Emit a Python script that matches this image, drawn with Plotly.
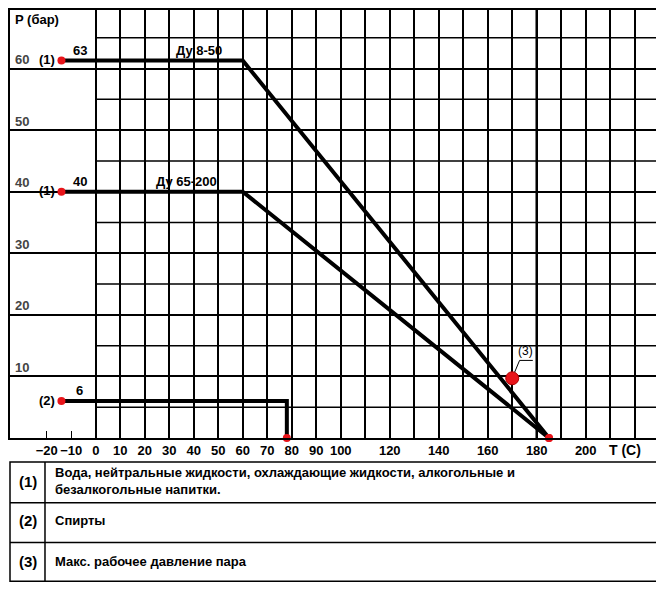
import plotly.graph_objects as go

# axis ticks
x_ticks = [-20, -10, 0, 10, 20, 30, 40, 50, 60, 70, 80, 90, 100, 120, 140, 160, 180, 200]
x_grid = list(range(0, 230, 10))
y_ticks = [10, 20, 30, 40, 50, 60]
y_minor = [5, 15, 25, 35, 45, 55, 65]

# pressure-temperature limits as drawn
curve_names = ["Ду 8-50", "Ду 65-200", ""]
curve_t = [[-14, 60, 185], [-14, 60, 185], [-14, 78, 78]]
curve_p = [[61.3, 61.3, 0], [40, 40, 0], [6, 6, 0]]
curve_group = ["(1)", "(1)", "(2)"]
curve_pn = ["63", "40", "6"]
name_t = [42, 37, None]

# max working steam pressure point
steam_t = [170]
steam_p = [9.7]

# legend table rows
row_keys = ["(1)", "(2)", "(3)"]
row_texts = [
    "Вода, нейтральные жидкости, охлаждающие жидкости, алкогольные и<br>безалкогольные напитки.",
    "Спирты",
    "Макс. рабочее давление пара",
]

FONT = "Liberation Sans, Arial, sans-serif"
X_MAX = 229.5

fig = go.Figure()

for t, p in zip(curve_t, curve_p):
    fig.add_trace(go.Scatter(x=t, y=p, mode="lines",
                             line=dict(color="black", width=4),
                             showlegend=False, hoverinfo="skip"))
    fig.add_trace(go.Scatter(x=[t[0], t[-1]], y=[p[0], p[-1]], mode="markers",
                             marker=dict(color="#e8141a", size=8),
                             showlegend=False, cliponaxis=False))

fig.add_trace(go.Scatter(x=steam_t, y=steam_p, mode="markers",
                         marker=dict(color="#e8141a", size=13,
                                     line=dict(color="#b00000", width=1)),
                         showlegend=False))

# minor horizontal grid only to the right of 0 C
shapes = []
for v in y_minor:
    shapes.append(dict(type="line", xref="x", yref="y", x0=0, x1=X_MAX, y0=v, y1=v,
                       line=dict(color="black", width=1.5), layer="below"))
# thicker 180 line
shapes.append(dict(type="line", xref="x", yref="paper", x0=180, x1=180, y0=0, y1=1,
                   line=dict(color="black", width=2.5), layer="below"))
# leader for (3)
shapes.append(dict(type="path", xref="x", yref="y",
                   path="M 171,10.7 L 173,12.6 L 178.4,12.6",
                   line=dict(color="black", width=1)))

# table below the chart
ty = [-0.0558, -0.1512, -0.2442, -0.3349]
shapes.append(dict(type="rect", xref="paper", yref="paper", x0=0, x1=1, y0=ty[3], y1=ty[0],
                   line=dict(color="black", width=1.5)))
for v in ty[1:3]:
    shapes.append(dict(type="line", xref="paper", yref="paper", x0=0, x1=1, y0=v, y1=v,
                       line=dict(color="black", width=1.5)))
shapes.append(dict(type="line", xref="paper", yref="paper", x0=0.054, x1=0.054,
                   y0=ty[3], y1=ty[0], line=dict(color="black", width=1.5)))
shapes.append(dict(type="line", xref="paper", yref="paper", x0=1.002, x1=1.002,
                   y0=ty[3], y1=1, line=dict(color="black", width=3)))

annotations = []
for i in range(len(curve_t)):
    t0, p0 = curve_t[i][0], curve_p[i][0]
    annotations.append(dict(x=t0, y=p0, text=curve_group[i], showarrow=False,
                            xanchor="right", xshift=-4, yshift=1))
    annotations.append(dict(x=t0 + 7.5, y=p0, text=curve_pn[i], showarrow=False,
                            yanchor="bottom", yshift=1))
    if curve_names[i]:
        annotations.append(dict(x=name_t[i], y=p0, text=curve_names[i], showarrow=False,
                                yanchor="bottom", yshift=1))
annotations.append(dict(x=175.5, y=14.2, text="(3)", showarrow=False,
                        font=dict(weight="normal", size=12)))
annotations.append(dict(x=-35, y=68, text="P (бар)", showarrow=False,
                        xanchor="left", xshift=3))
annotations.append(dict(x=216, y=-0.005, yref="paper", text="T (C)", showarrow=False,
                        yanchor="top", font=dict(size=14)))

row_y = [-0.1012, -0.1925, -0.2884]
for k, txt, yy in zip(row_keys, row_texts, row_y):
    annotations.append(dict(xref="paper", yref="paper", x=0.0278, y=yy, text=k,
                            showarrow=False, xanchor="center", yanchor="middle",
                            font=dict(size=15)))
    annotations.append(dict(xref="paper", yref="paper", x=0.0664, y=yy, text=txt,
                            showarrow=False, xanchor="left", yanchor="middle",
                            align="left"))

fig.update_layout(
    width=656, height=582,
    margin=dict(l=2, r=6, t=0, b=152),
    paper_bgcolor="white", plot_bgcolor="white",
    font=dict(family=FONT, size=13, color="black", weight="bold"),
    xaxis=dict(range=[-35, X_MAX], tickmode="array", tickvals=x_ticks,
               showgrid=False, zeroline=False, showline=True, mirror=True,
               linecolor="black", linewidth=1.5, ticks="inside", ticklen=7,
               tickcolor="black", tickwidth=1,
               minor=dict(tickmode="array", tickvals=x_grid, showgrid=True,
                          gridcolor="black", gridwidth=1.5, ticks="")),
    yaxis=dict(range=[0, 69.5], tickmode="array", tickvals=y_ticks,
               showgrid=True, gridcolor="black", gridwidth=1.5, zeroline=False,
               showline=True, mirror=True, linecolor="black", linewidth=1.5,
               ticks="", ticklabelposition="inside top", ticklabelstandoff=4),
    shapes=shapes,
    annotations=annotations,
)

fig.write_html("out.html")
